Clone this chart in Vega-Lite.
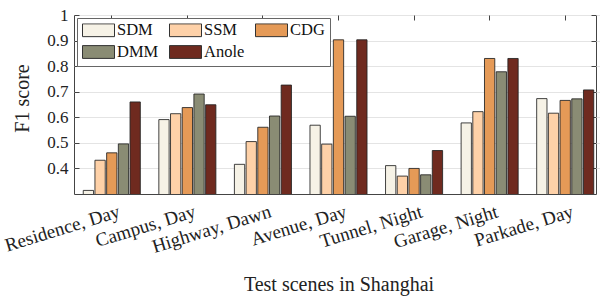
{
  "$schema": "https://vega.github.io/schema/vega-lite/v6.json",
  "width": 522,
  "height": 179,
  "autosize": {"type": "none"},
  "padding": {"left": 74, "top": 15, "right": 4, "bottom": 103},
  "background": "white",
  "config": {
    "view": {"stroke": "#444", "strokeWidth": 1},
    "font": "Liberation Serif",
    "axis": {"labelFont": "Liberation Serif", "titleFont": "Liberation Serif", "labelColor": "#222", "titleColor": "#222", "domainColor": "#444", "tickColor": "#444"}
  },
  "data": {
    "values": [
      {"scene": "Residence, Day", "method": "SDM", "f1": 0.314},
      {"scene": "Residence, Day", "method": "SSM", "f1": 0.432},
      {"scene": "Residence, Day", "method": "CDG", "f1": 0.461},
      {"scene": "Residence, Day", "method": "DMM", "f1": 0.496},
      {"scene": "Residence, Day", "method": "Anole", "f1": 0.660},
      {"scene": "Campus, Day", "method": "SDM", "f1": 0.591},
      {"scene": "Campus, Day", "method": "SSM", "f1": 0.614},
      {"scene": "Campus, Day", "method": "CDG", "f1": 0.638},
      {"scene": "Campus, Day", "method": "DMM", "f1": 0.691},
      {"scene": "Campus, Day", "method": "Anole", "f1": 0.649},
      {"scene": "Highway, Dawn", "method": "SDM", "f1": 0.416},
      {"scene": "Highway, Dawn", "method": "SSM", "f1": 0.505},
      {"scene": "Highway, Dawn", "method": "CDG", "f1": 0.561},
      {"scene": "Highway, Dawn", "method": "DMM", "f1": 0.605},
      {"scene": "Highway, Dawn", "method": "Anole", "f1": 0.726},
      {"scene": "Avenue, Day", "method": "SDM", "f1": 0.569},
      {"scene": "Avenue, Day", "method": "SSM", "f1": 0.495},
      {"scene": "Avenue, Day", "method": "CDG", "f1": 0.903},
      {"scene": "Avenue, Day", "method": "DMM", "f1": 0.604},
      {"scene": "Avenue, Day", "method": "Anole", "f1": 0.903},
      {"scene": "Tunnel, Night", "method": "SDM", "f1": 0.411},
      {"scene": "Tunnel, Night", "method": "SSM", "f1": 0.370},
      {"scene": "Tunnel, Night", "method": "CDG", "f1": 0.400},
      {"scene": "Tunnel, Night", "method": "DMM", "f1": 0.375},
      {"scene": "Tunnel, Night", "method": "Anole", "f1": 0.470},
      {"scene": "Garage, Night", "method": "SDM", "f1": 0.578},
      {"scene": "Garage, Night", "method": "SSM", "f1": 0.622},
      {"scene": "Garage, Night", "method": "CDG", "f1": 0.830},
      {"scene": "Garage, Night", "method": "DMM", "f1": 0.778},
      {"scene": "Garage, Night", "method": "Anole", "f1": 0.830},
      {"scene": "Parkade, Day", "method": "SDM", "f1": 0.673},
      {"scene": "Parkade, Day", "method": "SSM", "f1": 0.616},
      {"scene": "Parkade, Day", "method": "CDG", "f1": 0.666},
      {"scene": "Parkade, Day", "method": "DMM", "f1": 0.672},
      {"scene": "Parkade, Day", "method": "Anole", "f1": 0.707}
    ]
  },
  "layer": [
    {
      "mark": {"type": "bar", "stroke": "#222", "strokeWidth": 1, "strokeOpacity": 0.85, "clip": true},
      "encoding": {
        "x": {
          "field": "scene", "type": "nominal", "sort": null,
          "scale": {"range": [0, 529], "paddingInner": 0.245, "paddingOuter": 0.1225},
          "axis": {"orient": "bottom", "title": "Test scenes in Shanghai", "titleFontSize": 20, "titleFontWeight": "normal", "titleBaseline": "alphabetic", "titleY": 96, "labelAngle": -17, "labelFontSize": 19, "labelAlign": "right", "labelBaseline": "top", "labelPadding": 8, "labelOffset": 5, "ticks": false, "domain": false, "grid": false}
        },
        "xOffset": {"field": "method", "type": "nominal", "sort": ["SDM", "SSM", "CDG", "DMM", "Anole"], "scale": {"paddingInner": 0.12, "paddingOuter": 0}},
        "y": {
          "field": "f1", "type": "quantitative",
          "scale": {"domain": [0.3, 1], "nice": false, "zero": false},
          "axis": {"orient": "left", "title": "F1 score", "titleFontSize": 20, "titleFontWeight": "normal", "titleBaseline": "middle", "titleX": -52, "titleY": 83, "values": [0.4, 0.5, 0.6, 0.7, 0.8, 0.9, 1], "labelFontSize": 17, "labelExpr": "datum.value == 1 ? '1' : format(datum.value, '.1f')", "tickSize": -5, "labelPadding": 11, "grid": true, "gridColor": "#e4e4e4", "gridWidth": 1, "domain": false}
        },
        "fill": {
          "field": "method", "type": "nominal", "sort": ["SDM", "SSM", "CDG", "DMM", "Anole"],
          "scale": {"domain": ["SDM", "SSM", "CDG", "DMM", "Anole"], "range": ["#f6f2e6", "#fed1a8", "#e59a57", "#8a8c74", "#6f2a1f"]},
          "legend": {
            "orient": "none", "legendX": 3, "legendY": 3, "direction": "horizontal", "columns": 3, "title": null,
            "symbolType": "M-1,-0.4H1V0.4H-1Z", "symbolSize": 1024, "symbolStrokeColor": "#333", "symbolStrokeWidth": 1,
            "clipHeight": 14,
            "labelFontSize": 16.5, "labelFont": "Liberation Serif", "labelColor": "#111", "columnPadding": 10, "rowPadding": 5, "labelOffset": 2,
            "padding": 5, "strokeColor": "#666", "fillColor": "white", "symbolOffset": 0, "labelLimit": 80
          }
        }
      }
    },
    {
      "mark": {"type": "bar", "opacity": 0},
      "encoding": {
        "x": {"field": "scene", "type": "nominal", "sort": null, "axis": {"orient": "top", "title": null, "labels": false, "tickSize": -5, "domain": false, "grid": false}},
        "y": {"field": "f1", "type": "quantitative", "axis": {"orient": "right", "title": null, "labels": false, "tickSize": -5, "values": [0.4, 0.5, 0.6, 0.7, 0.8, 0.9, 1], "domain": false, "grid": false}}
      }
    }
  ],
  "resolve": {"axis": {"x": "independent", "y": "independent"}}
}
